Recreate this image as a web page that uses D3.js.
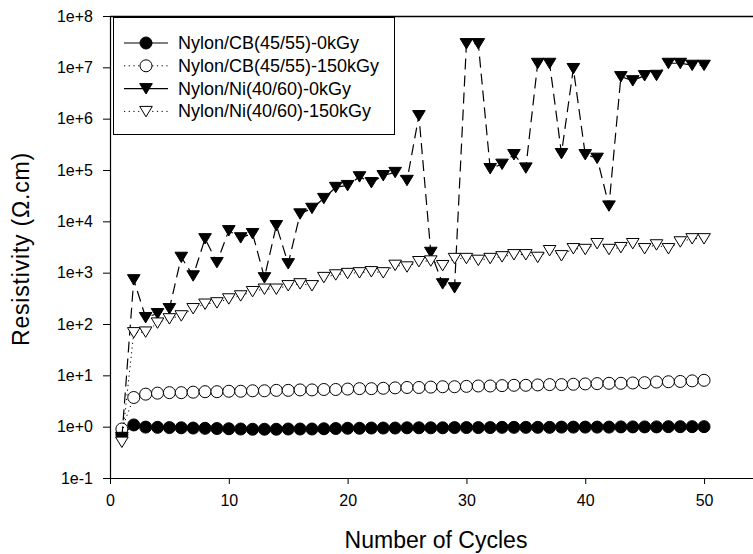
<!DOCTYPE html>
<html>
<head>
<meta charset="utf-8">
<script src="https://cdn.jsdelivr.net/npm/d3@7"></script>
<style>
  html, body { margin: 0; padding: 0; background: #fff; }
  svg { display: block; font-family: Arial, "Liberation Sans", Helvetica, sans-serif; }
</style>
</head>
<body>
<svg id="chart" width="753" height="554"></svg>
<script>
// cycle number (x)
const cycles = [
  1, 2, 3, 4, 5, 6, 7, 8, 9, 10,
  11, 12, 13, 14, 15, 16, 17, 18, 19, 20,
  21, 22, 23, 24, 25, 26, 27, 28, 29, 30,
  31, 32, 33, 34, 35, 36, 37, 38, 39, 40,
  41, 42, 43, 44, 45, 46, 47, 48, 49, 50
];

// resistivity, ohm.cm
const cb0 = [
  0.70, 1.08, 0.98, 0.97, 0.96, 0.95, 0.94, 0.93, 0.92, 0.91,
  0.90, 0.89, 0.89, 0.89, 0.90, 0.90, 0.90, 0.91, 0.92, 0.93,
  0.93, 0.94, 0.94, 0.94, 0.95, 0.95, 0.95, 0.95, 0.96, 0.96,
  0.96, 0.96, 0.97, 0.97, 0.97, 0.97, 0.97, 0.98, 0.98, 0.98,
  0.98, 0.98, 0.99, 0.99, 0.99, 0.99, 1.00, 1.00, 1.00, 1.00
];
const cb150 = [
  0.90, 3.7, 4.3, 4.5, 4.6, 4.6, 4.7, 4.8, 4.8, 4.9,
  4.9, 5.0, 5.0, 5.1, 5.1, 5.2, 5.2, 5.3, 5.3, 5.4,
  5.5, 5.5, 5.6, 5.7, 5.8, 5.8, 5.9, 6.0, 6.0, 6.1,
  6.2, 6.2, 6.3, 6.4, 6.4, 6.5, 6.6, 6.6, 6.7, 6.8,
  6.9, 7.0, 7.0, 7.1, 7.2, 7.4, 7.5, 7.6, 7.8, 8.0
];
const ni0 = [
  0.62, 730, 134, 160, 200, 2000, 870, 4600, 1580, 6600,
  4800, 5800, 800, 8300, 1500, 14000, 18000, 28000, 46000, 50000,
  74000, 57000, 78000, 90000, 63000, 1.15e6, 2500, 610, 510, 2.9e7,
  2.9e7, 1.07e5, 1.3e5, 2e5, 1.1e5, 1.2e7, 1.2e7, 2.1e5, 9.5e6, 2e5,
  1.7e5, 2e4, 6.6e6, 5.5e6, 6.9e6, 7e6, 1.2e7, 1.2e7, 1.1e7, 1.1e7
];
const ni150 = [
  0.5, 68, 70, 105, 127, 145, 200, 245, 260, 310,
  355, 430, 480, 480, 560, 610, 560, 810, 910, 970,
  1000, 1050, 1000, 1400, 1300, 1650, 1700, 1380, 1900, 1900,
  1750, 1900, 2050, 2250, 2250, 2000, 2700, 2150, 2950, 2850,
  3700, 2850, 3100, 3700, 2950, 3500, 2950, 4000, 4600, 4600
];

const seriesNames = [
  'Nylon/CB(45/55)-0kGy',
  'Nylon/CB(45/55)-150kGy',
  'Nylon/Ni(40/60)-0kGy',
  'Nylon/Ni(40/60)-150kGy'
];

const xTicks = [0, 10, 20, 30, 40, 50];
const yTicks = [1e-1, 1e0, 1e1, 1e2, 1e3, 1e4, 1e5, 1e6, 1e7, 1e8];
const yTickLabels = ['1e-1', '1e+0', '1e+1', '1e+2', '1e+3', '1e+4', '1e+5', '1e+6', '1e+7', '1e+8'];

const series = [
  { name: seriesNames[0], values: cb0,   marker: 'circle',   fill: '#000', dash: null },
  { name: seriesNames[1], values: cb150, marker: 'circle',   fill: '#fff', dash: '1.2,3.5' },
  { name: seriesNames[2], values: ni0,   marker: 'triangle', fill: '#000', dash: '11,6' },
  { name: seriesNames[3], values: ni150, marker: 'triangle', fill: '#fff', dash: '1.2,3.5' }
];

const svg = d3.select('#chart');
const plotLeft = 110, plotRight = 753, plotTop = 16, plotBottom = 478;

const x = d3.scaleLinear().domain([0, 54.12]).range([plotLeft, plotRight]);
const y = d3.scaleLog().domain([1e-1, 1e8]).range([plotBottom, plotTop]);

// frame: top line, left and bottom axes
svg.append('line')
  .attr('x1', plotLeft).attr('x2', plotRight).attr('y1', plotTop + 0.5).attr('y2', plotTop + 0.5)
  .attr('stroke', '#000').attr('stroke-width', 1.5);

const xAxis = svg.append('g')
  .attr('transform', `translate(0,${plotBottom})`)
  .call(d3.axisBottom(x).tickValues(xTicks).tickFormat(d3.format('d')).tickSize(6).tickSizeOuter(0));
xAxis.select('.domain').attr('stroke', '#000').attr('stroke-width', 1.2);
xAxis.selectAll('.tick text').attr('font-size', 16).attr('dy', '1.2em').attr('fill', '#000');

const yAxis = svg.append('g')
  .attr('transform', `translate(${plotLeft},0)`)
  .call(d3.axisLeft(y).tickValues(yTicks).tickFormat((d, i) => yTickLabels[i]).tickSize(7).tickSizeOuter(0));
yAxis.select('.domain').attr('stroke', '#000').attr('stroke-width', 1.2);
yAxis.selectAll('.tick text').attr('font-size', 16).attr('x', -17).attr('fill', '#000');

// axis titles
svg.append('text')
  .attr('x', 436).attr('y', 548)
  .attr('text-anchor', 'middle')
  .attr('font-size', 23)
  .text('Number of Cycles');

svg.append('text')
  .attr('transform', 'translate(29,249) rotate(-90)')
  .attr('text-anchor', 'middle')
  .attr('font-size', 23)
  .attr('letter-spacing', 0.8)
  .text('Resistivity (Ω.cm)');

const triPath = 'M-6.3,-5L6.3,-5L0,5.4Z';

function drawMarker(g, s) {
  if (s.marker === 'circle') {
    g.append('circle').attr('r', 6)
      .attr('fill', s.fill).attr('stroke', '#000').attr('stroke-width', 1);
  } else {
    g.append('path').attr('d', triPath)
      .attr('fill', s.fill).attr('stroke', '#000').attr('stroke-width', 1)
      .attr('stroke-linejoin', 'miter');
  }
}

const line = d3.line()
  .x((d, i) => x(cycles[i]))
  .y(d => y(d));

// lines, then markers, series by series
series.forEach(s => {
  svg.append('path')
    .datum(s.values)
    .attr('d', line)
    .attr('fill', 'none')
    .attr('stroke', '#000')
    .attr('stroke-width', s.dash && s.dash.startsWith('1.2') ? 1 : 1.2)
    .attr('stroke-dasharray', s.dash);

  svg.append('g')
    .selectAll('g')
    .data(s.values)
    .join('g')
    .attr('transform', (d, i) => `translate(${x(cycles[i])},${y(d)})`)
    .each(function () { drawMarker(d3.select(this), s); });
});

// legend
const legend = svg.append('g');
legend.append('rect')
  .attr('x', 113.5).attr('y', 17.5).attr('width', 281).attr('height', 117)
  .attr('fill', '#fff').attr('stroke', '#000').attr('stroke-width', 1);

series.forEach((s, i) => {
  const cy = 43 + i * 22.8;
  const row = legend.append('g');
  row.append('line')
    .attr('x1', 124).attr('x2', 168).attr('y1', cy).attr('y2', cy)
    .attr('stroke', '#000')
    .attr('stroke-width', s.dash && s.dash.startsWith('1.2') ? 1 : 1.2)
    .attr('stroke-dasharray', s.dash && s.dash.startsWith('1.2') ? s.dash : null);
  drawMarker(row.append('g').attr('transform', `translate(146,${cy})`), s);
  row.append('text')
    .attr('x', 178).attr('y', cy + 6)
    .attr('font-size', 18)
    .text(s.name);
});
</script>
</body>
</html>
